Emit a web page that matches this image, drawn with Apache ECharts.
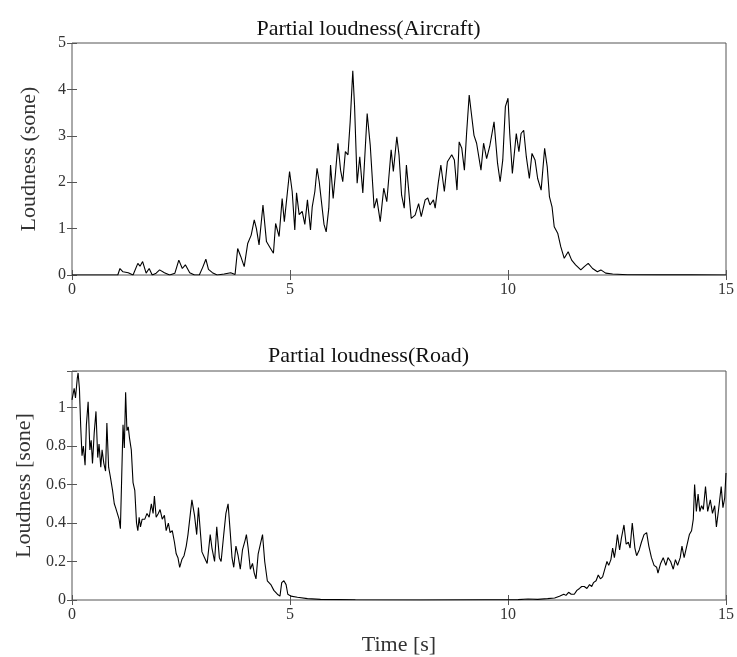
<!DOCTYPE html>
<html>
<head>
<meta charset="utf-8">
<script src="https://cdn.jsdelivr.net/npm/echarts@6/dist/echarts.min.js"></script>
<style>
  html, body { margin: 0; padding: 0; background: #fff; }
  #main { width: 737px; height: 657px; }
</style>
</head>
<body>
<div id="main"></div>
<script>
// time ticks shared by both plots
var timeTicks = [0, 5, 10, 15];

// partial loudness of the aircraft recording [time s, sone]
var aircraft = [
  [0,0],[1.05,0],[1.10,0.14],[1.17,0.07],[1.29,0.05],[1.40,0],[1.51,0.25],[1.56,0.19],[1.62,0.29],
  [1.70,0.04],[1.77,0.14],[1.84,0],[1.93,0.04],[2.01,0.11],[2.12,0.05],[2.24,0],[2.36,0.04],
  [2.45,0.32],[2.53,0.14],[2.60,0.22],[2.70,0.05],[2.81,0],[2.92,0],[3.00,0.17],[3.07,0.34],
  [3.13,0.12],[3.22,0.05],[3.33,0],[3.49,0.02],[3.64,0.05],[3.74,0.01],[3.80,0.57],[3.87,0.40],
  [3.95,0.18],[4.03,0.68],[4.11,0.86],[4.18,1.19],[4.23,1.00],[4.29,0.65],[4.38,1.51],[4.46,0.72],
  [4.53,0.61],[4.62,0.47],[4.67,1.11],[4.75,0.83],[4.82,1.65],[4.87,1.15],[4.99,2.23],[5.05,1.80],
  [5.11,0.97],[5.15,1.77],[5.21,1.30],[5.28,1.37],[5.34,1.09],[5.40,1.62],[5.47,0.97],[5.51,1.47],
  [5.57,1.80],[5.62,2.30],[5.67,2.01],[5.78,1.09],[5.83,0.93],[5.89,1.44],[5.93,2.37],[5.99,1.65],
  [6.04,2.16],[6.10,2.84],[6.16,2.26],[6.21,2.01],[6.27,2.66],[6.33,2.59],[6.38,3.30],[6.44,4.40],
  [6.48,3.66],[6.54,1.98],[6.60,2.55],[6.67,1.77],[6.77,3.48],[6.84,2.80],[6.93,1.44],[6.99,1.65],
  [7.07,1.15],[7.15,1.87],[7.22,1.58],[7.32,2.70],[7.37,2.23],[7.45,2.98],[7.50,2.59],[7.56,1.72],
  [7.62,1.44],[7.67,2.37],[7.78,1.22],[7.87,1.29],[7.95,1.54],[8.01,1.26],[8.10,1.62],[8.16,1.66],
  [8.21,1.51],[8.29,1.62],[8.33,1.44],[8.40,1.98],[8.46,2.37],[8.54,1.80],[8.61,2.44],[8.71,2.59],
  [8.77,2.48],[8.83,1.83],[8.88,2.87],[8.94,2.73],[9.00,2.26],[9.05,3.05],[9.11,3.88],[9.16,3.48],
  [9.22,3.01],[9.28,2.84],[9.38,2.26],[9.44,2.84],[9.51,2.51],[9.58,2.77],[9.68,3.30],[9.76,2.41],
  [9.82,2.01],[9.88,2.48],[9.94,3.63],[10.00,3.81],[10.04,3.05],[10.10,2.19],[10.19,3.05],[10.25,2.66],
  [10.30,3.05],[10.36,3.12],[10.42,2.55],[10.49,2.08],[10.55,2.62],[10.62,2.48],[10.68,2.08],
  [10.76,1.83],[10.84,2.73],[10.90,2.33],[10.95,1.69],[11.01,1.47],[11.06,1.04],[11.14,0.90],
  [11.21,0.61],[11.29,0.36],[11.38,0.50],[11.46,0.32],[11.55,0.22],[11.67,0.11],[11.75,0.18],
  [11.84,0.25],[11.94,0.14],[12.05,0.07],[12.13,0.11],[12.24,0.04],[12.40,0.02],[12.74,0.005],
  [13.5,0.003],[14.2,0.002],[15,0.001]
];

// partial loudness of the road recording [time s, sone]
var road = [
  [0,1.04],[0.05,1.10],[0.08,1.05],[0.12,1.15],[0.14,1.18],[0.17,1.10],[0.20,0.90],[0.23,0.75],
  [0.26,0.80],[0.30,0.70],[0.33,0.91],[0.37,1.03],[0.41,0.78],[0.44,0.83],[0.47,0.71],[0.51,0.87],
  [0.55,0.98],[0.59,0.74],[0.62,0.81],[0.66,0.69],[0.69,0.78],[0.73,0.71],[0.77,0.67],[0.80,0.92],
  [0.84,0.69],[0.88,0.64],[0.93,0.57],[0.97,0.50],[1.00,0.48],[1.04,0.45],[1.08,0.42],[1.11,0.37],
  [1.14,0.64],[1.17,0.91],[1.20,0.79],[1.23,1.08],[1.26,0.88],[1.29,0.90],[1.32,0.84],[1.36,0.78],
  [1.40,0.61],[1.44,0.57],[1.48,0.40],[1.51,0.36],[1.54,0.43],[1.57,0.38],[1.61,0.42],[1.67,0.42],
  [1.72,0.45],[1.77,0.43],[1.82,0.50],[1.86,0.45],[1.89,0.54],[1.93,0.43],[1.98,0.45],[2.02,0.47],
  [2.07,0.42],[2.12,0.44],[2.16,0.36],[2.21,0.40],[2.25,0.35],[2.30,0.36],[2.35,0.30],[2.39,0.24],
  [2.43,0.22],[2.47,0.17],[2.52,0.21],[2.57,0.23],[2.62,0.28],[2.66,0.34],[2.71,0.44],[2.75,0.52],
  [2.81,0.44],[2.86,0.34],[2.90,0.48],[2.98,0.25],[3.04,0.22],[3.10,0.19],[3.17,0.34],[3.21,0.27],
  [3.27,0.20],[3.32,0.38],[3.38,0.22],[3.42,0.20],[3.48,0.34],[3.53,0.45],[3.58,0.50],[3.63,0.35],
  [3.67,0.22],[3.71,0.17],[3.76,0.28],[3.81,0.23],[3.86,0.16],[3.91,0.26],[3.97,0.31],[4.00,0.34],
  [4.04,0.27],[4.09,0.16],[4.14,0.19],[4.18,0.14],[4.22,0.11],[4.27,0.24],[4.31,0.23],[4.37,0.34],
  [4.42,0.20],[4.48,0.10],[4.56,0.08],[4.63,0.05],[4.71,0.03],[4.77,0.02],[4.81,0.09],[4.86,0.10],
  [4.91,0.08],[4.95,0.03],[5.02,0.02],[5.17,0.014],[5.40,0.007],[5.70,0.003],[6.5,0.001],[8,0],
  [9.5,0.001],[10.23,0.002],[10.46,0.005],[10.68,0.003],[10.91,0.007],[11.07,0.01],[11.18,0.02],
  [11.28,0.03],[11.33,0.024],[11.39,0.04],[11.45,0.03],[11.52,0.03],[11.58,0.05],[11.64,0.06],
  [11.69,0.07],[11.75,0.07],[11.81,0.06],[11.87,0.08],[11.92,0.07],[11.96,0.09],[12.02,0.10],
  [12.07,0.13],[12.12,0.11],[12.17,0.12],[12.22,0.16],[12.27,0.20],[12.31,0.18],[12.36,0.21],
  [12.40,0.27],[12.44,0.22],[12.48,0.28],[12.51,0.34],[12.56,0.26],[12.60,0.32],[12.66,0.39],
  [12.71,0.29],[12.76,0.30],[12.80,0.27],[12.85,0.40],[12.91,0.27],[12.95,0.23],[13.01,0.26],
  [13.06,0.30],[13.12,0.34],[13.18,0.35],[13.23,0.28],[13.29,0.22],[13.35,0.18],[13.41,0.17],
  [13.44,0.14],[13.50,0.19],[13.56,0.22],[13.62,0.18],[13.67,0.22],[13.73,0.20],[13.79,0.16],
  [13.84,0.21],[13.89,0.18],[13.95,0.22],[13.99,0.28],[14.04,0.22],[14.11,0.29],[14.16,0.34],
  [14.21,0.36],[14.25,0.42],[14.28,0.60],[14.32,0.46],[14.36,0.55],[14.40,0.46],[14.44,0.49],
  [14.48,0.47],[14.53,0.59],[14.58,0.46],[14.64,0.52],[14.69,0.45],[14.74,0.49],[14.78,0.38],
  [14.83,0.47],[14.89,0.59],[14.93,0.48],[14.97,0.53],[15.00,0.66]
];

var titles = ['Partial loudness(Aircraft)', 'Partial loudness(Road)'];
var yNames = ['Loudness (sone)', 'Loudness [sone]'];
var xName = 'Time [s]';

var FONT = "'Palatino Linotype', Palatino, 'Liberation Serif', serif";
var AX = '#555';
var TXT = '#333';

var myChart = echarts.init(document.getElementById('main'));

// axis helpers: main axes carry labels, mirrored ones only inward ticks
function xMain(grid, name) {
  return {
    type: 'value', gridIndex: grid, min: 0, max: 15, interval: 5,
    axisLine: { show: false },
    axisTick: { inside: true, length: 5, lineStyle: { color: AX } },
    axisLabel: { color: TXT, fontFamily: FONT, fontSize: 16, margin: 7 },
    splitLine: { show: false },
    name: name, nameLocation: 'middle', nameGap: 34,
    nameTextStyle: { color: TXT, fontFamily: FONT, fontSize: 22 }
  };
}
function xMirror(grid) {
  return {
    type: 'value', gridIndex: grid, position: 'top', min: 0, max: 15, interval: 5,
    axisLine: { show: false },
    axisTick: { inside: true, length: 5, lineStyle: { color: AX } },
    axisLabel: { show: false }, splitLine: { show: false }
  };
}
function yMain(grid, max, step, name, gap, fmt) {
  return {
    type: 'value', gridIndex: grid, min: 0, max: max, interval: step,
    axisLine: { show: false },
    axisTick: { inside: true, length: 5, lineStyle: { color: AX } },
    axisLabel: { color: TXT, fontFamily: FONT, fontSize: 16, margin: 6, formatter: fmt },
    splitLine: { show: false },
    name: name, nameLocation: 'middle', nameGap: gap,
    nameTextStyle: { color: TXT, fontFamily: FONT, fontSize: 22 }
  };
}
function yMirror(grid, max, step) {
  return {
    type: 'value', gridIndex: grid, position: 'right', min: 0, max: max, interval: step,
    axisLine: { show: false },
    axisTick: { inside: true, length: 5, lineStyle: { color: AX } },
    axisLabel: { show: false }, splitLine: { show: false }
  };
}

var roadFmt = function (v) { return v > 1.05 ? '' : String(+v.toFixed(1)); };

option = {
  animation: false,
  backgroundColor: '#fff',
  title: [
    { text: titles[0], left: 'center', top: 13,
      textStyle: { color: '#111', fontFamily: FONT, fontSize: 22, fontWeight: 'normal' } },
    { text: titles[1], left: 'center', top: 340,
      textStyle: { color: '#111', fontFamily: FONT, fontSize: 22, fontWeight: 'normal' } }
  ],
  grid: [
    { left: 72, right: 8, top: 43, height: 232, show: true, borderColor: AX, borderWidth: 1 },
    { left: 72, right: 8, top: 371, height: 231, show: true, borderColor: AX, borderWidth: 1 }
  ],
  xAxis: [xMain(0, ''), xMirror(0), xMain(1, xName), xMirror(1)],
  yAxis: [yMain(0, 5, 1, yNames[0], 32), yMirror(0, 5, 1), yMain(1, 1.19, 0.2, yNames[1], 26, roadFmt), yMirror(1, 1.19, 0.2)],
  series: [
    { name: 'Aircraft', type: 'line', xAxisIndex: 0, yAxisIndex: 0, data: aircraft,
      showSymbol: false, symbol: 'none', lineStyle: { color: '#000', width: 1.1 } },
    { name: 'Road', type: 'line', xAxisIndex: 2, yAxisIndex: 2, data: road,
      showSymbol: false, symbol: 'none', lineStyle: { color: '#000', width: 1.1 } }
  ]
};
myChart.setOption(option);
</script>
</body>
</html>
